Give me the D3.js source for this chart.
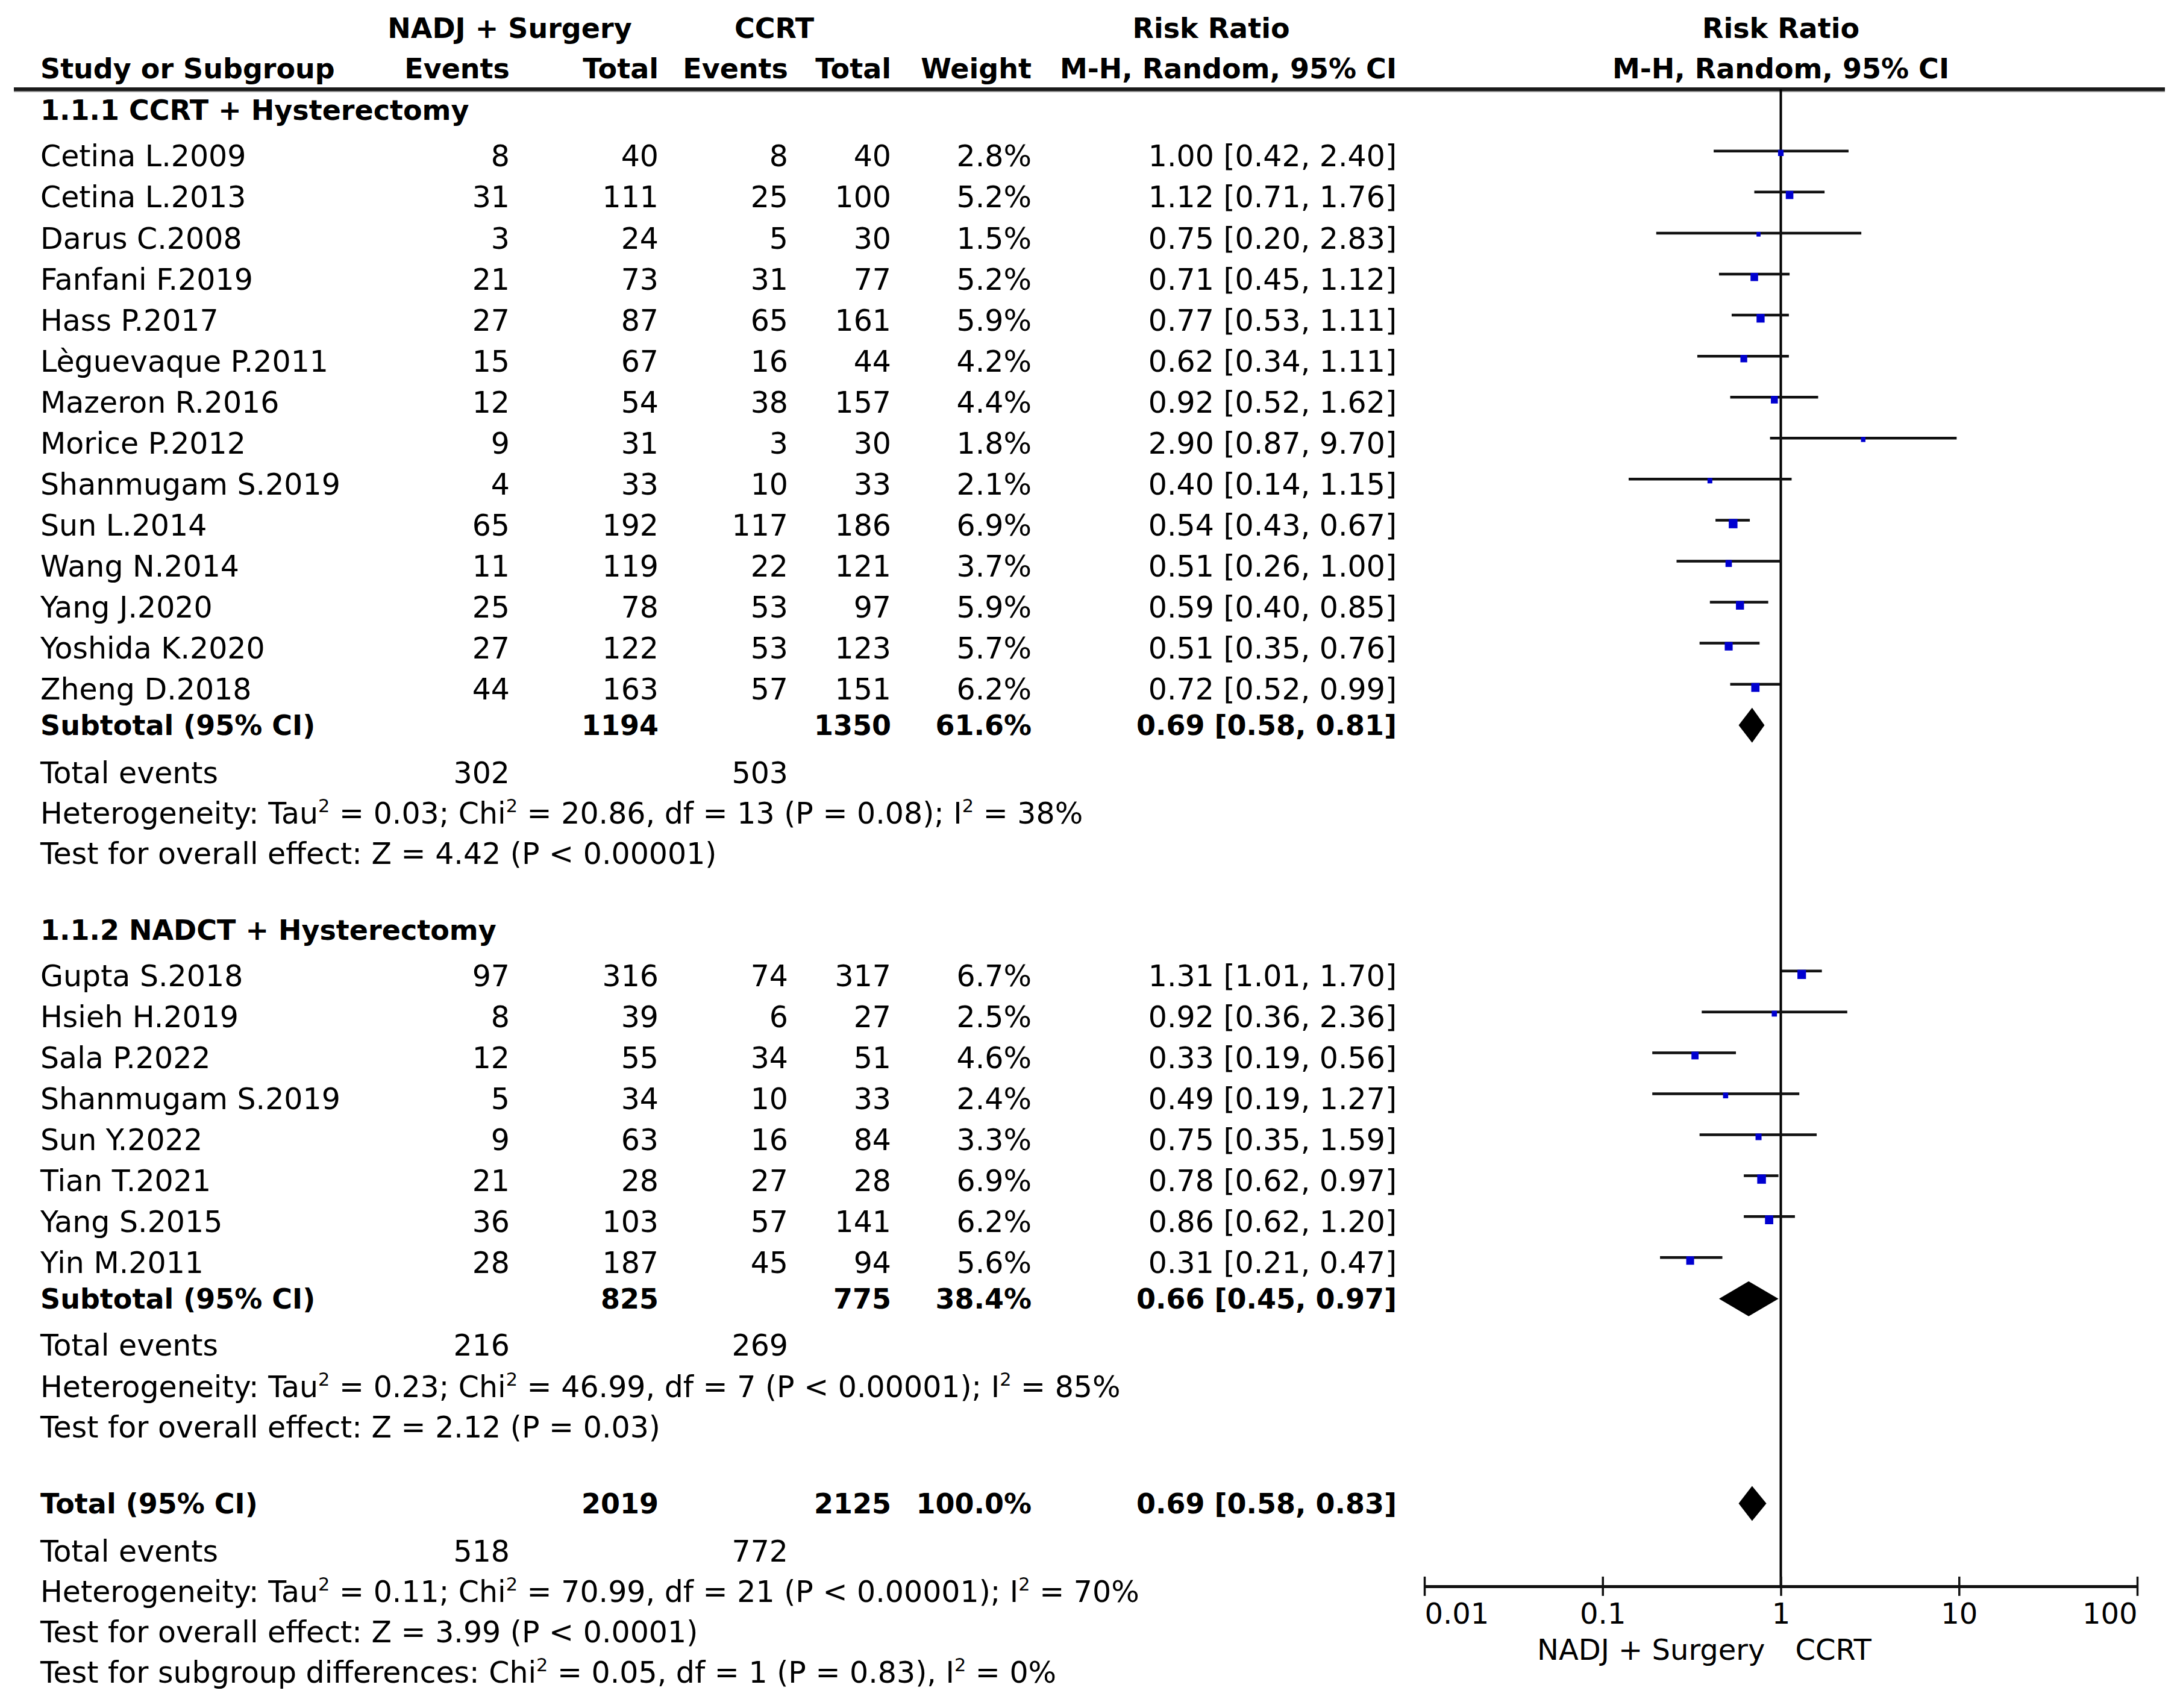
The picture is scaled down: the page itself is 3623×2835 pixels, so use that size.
<!DOCTYPE html>
<html><head><meta charset="utf-8">
<script src="https://cdn.jsdelivr.net/npm/d3@7"></script>
<style>
body{margin:0;background:#fff}
text{font-family:"DejaVu Sans",Verdana,sans-serif;fill:#000}
</style>
</head><body>
<svg id="chart" width="3623" height="2835"></svg>
<script>
// ---------------- DATA ----------------
const g1Title = "1.1.1 CCRT + Hysterectomy";
const g1Studies = ["Cetina L.2009","Cetina L.2013","Darus C.2008","Fanfani F.2019","Hass P.2017","Lèguevaque P.2011","Mazeron R.2016","Morice P.2012","Shanmugam S.2019","Sun L.2014","Wang N.2014","Yang J.2020","Yoshida K.2020","Zheng D.2018"];
const g1ExpEvents = [8,31,3,21,27,15,12,9,4,65,11,25,27,44];
const g1ExpTotal  = [40,111,24,73,87,67,54,31,33,192,119,78,122,163];
const g1CtlEvents = [8,25,5,31,65,16,38,3,10,117,22,53,53,57];
const g1CtlTotal  = [40,100,30,77,161,44,157,30,33,186,121,97,123,151];
const g1Weight    = [2.8,5.2,1.5,5.2,5.9,4.2,4.4,1.8,2.1,6.9,3.7,5.9,5.7,6.2];
const g1RR        = [1.00,1.12,0.75,0.71,0.77,0.62,0.92,2.90,0.40,0.54,0.51,0.59,0.51,0.72];
const g1Lower     = [0.42,0.71,0.20,0.45,0.53,0.34,0.52,0.87,0.14,0.43,0.26,0.40,0.35,0.52];
const g1Upper     = [2.40,1.76,2.83,1.12,1.11,1.11,1.62,9.70,1.15,0.67,1.00,0.85,0.76,0.99];
const g1Subtotal  = {expTotal:1194, ctlTotal:1350, weight:61.6, rr:0.69, lo:0.58, hi:0.81, expEvents:302, ctlEvents:503};
const g1Het  = "Heterogeneity: Tau² = 0.03; Chi² = 20.86, df = 13 (P = 0.08); I² = 38%";
const g1Test = "Test for overall effect: Z = 4.42 (P < 0.00001)";

const g2Title = "1.1.2 NADCT + Hysterectomy";
const g2Studies = ["Gupta S.2018","Hsieh H.2019","Sala P.2022","Shanmugam S.2019","Sun Y.2022","Tian T.2021","Yang S.2015","Yin M.2011"];
const g2ExpEvents = [97,8,12,5,9,21,36,28];
const g2ExpTotal  = [316,39,55,34,63,28,103,187];
const g2CtlEvents = [74,6,34,10,16,27,57,45];
const g2CtlTotal  = [317,27,51,33,84,28,141,94];
const g2Weight    = [6.7,2.5,4.6,2.4,3.3,6.9,6.2,5.6];
const g2RR        = [1.31,0.92,0.33,0.49,0.75,0.78,0.86,0.31];
const g2Lower     = [1.01,0.36,0.19,0.19,0.35,0.62,0.62,0.21];
const g2Upper     = [1.70,2.36,0.56,1.27,1.59,0.97,1.20,0.47];
const g2Subtotal  = {expTotal:825, ctlTotal:775, weight:38.4, rr:0.66, lo:0.45, hi:0.97, expEvents:216, ctlEvents:269};
const g2Het  = "Heterogeneity: Tau² = 0.23; Chi² = 46.99, df = 7 (P < 0.00001); I² = 85%";
const g2Test = "Test for overall effect: Z = 2.12 (P = 0.03)";

const overall = {expTotal:2019, ctlTotal:2125, weight:100.0, rr:0.69, lo:0.58, hi:0.83, expEvents:518, ctlEvents:772};
const overallHet  = "Heterogeneity: Tau² = 0.11; Chi² = 70.99, df = 21 (P < 0.00001); I² = 70%";
const overallTest = "Test for overall effect: Z = 3.99 (P < 0.0001)";
const subgroupTest = "Test for subgroup differences: Chi² = 0.05, df = 1 (P = 0.83), I² = 0%";

const axisTicks = [0.01, 0.1, 1, 10, 100];
const axisTickLabels = ["0.01","0.1","1","10","100"];
const favoursLeft = "NADJ + Surgery";
const favoursRight = "CCRT";

// ---------------- LAYOUT ----------------
const S = 3623/1568;
const FS = 49, FSB = 46;
const svg = d3.select("#chart");
const col = {name:67, e1:846, n1:1093, e2:1308, n2:1479, w:1712, ci:2318};
const x = d3.scaleLog().domain([0.01,100]).range([2364,3547]);
const ruleY = 64*S, axisY = 1139.5*S;

function txt(xp, yc, str, anchor="start", bold=false, size=null){
  const fs = size || (bold ? FSB : FS);
  const t = svg.append("text")
    .attr("x", xp).attr("y", yc + fs*0.36)
    .attr("text-anchor", anchor)
    .attr("font-size", fs)
    .attr("font-weight", bold ? "bold" : "normal");
  const s = String(str);
  if (s.includes("²")) {
    const parts = s.split("²");
    parts.forEach((part, i) => {
      const ts = t.append("tspan").text(part);
      if (i > 0) ts.attr("dy", fs*0.38);
      if (i < parts.length - 1) {
        t.append("tspan").attr("font-size", fs*0.62).attr("dy", -fs*0.38).text("2");
      }
    });
  } else t.text(s);
  return t;
}
const fmt2 = d3.format(".2f"), fmt1 = d3.format(".1f");
const ciStr = (r,l,h) => `${fmt2(r)} [${fmt2(l)}, ${fmt2(h)}]`;

// headers
txt(col.e1, 20*S, "NADJ + Surgery", "middle", true);
txt(col.e2-23, 20*S, "CCRT", "middle", true);
txt(2010, 20*S, "Risk Ratio", "middle", true);
txt(x(1), 20*S, "Risk Ratio", "middle", true);
txt(col.name, 49*S, "Study or Subgroup", "start", true);
txt(col.e1, 49*S, "Events", "end", true);
txt(col.n1, 49*S, "Total", "end", true);
txt(col.e2, 49*S, "Events", "end", true);
txt(col.n2, 49*S, "Total", "end", true);
txt(col.w, 49*S, "Weight", "end", true);
txt(col.ci, 49*S, "M-H, Random, 95% CI", "end", true);
txt(x(1), 49*S, "M-H, Random, 95% CI", "middle", true);

svg.append("line").attr("x1",23).attr("x2",3593).attr("y1",ruleY).attr("y2",ruleY)
  .attr("stroke","#1a1a1a").attr("stroke-width",6);
svg.append("line").attr("x1",23).attr("x2",3593).attr("y1",ruleY+4).attr("y2",ruleY+4)
  .attr("stroke","#999").attr("stroke-width",2);

// vertical line of no effect
svg.append("line").attr("x1",x(1)).attr("x2",x(1)).attr("y1",ruleY).attr("y2",axisY)
  .attr("stroke","#000").attr("stroke-width",4);

function drawStudies(names, ee, et, ce, ct, w, rr, lo, hi, y0, step){
  names.forEach((n,i)=>{
    const yc = (y0 + step*i)*S;
    txt(col.name, yc, n);
    txt(col.e1, yc, ee[i], "end");
    txt(col.n1, yc, et[i], "end");
    txt(col.e2, yc, ce[i], "end");
    txt(col.n2, yc, ct[i], "end");
    txt(col.w, yc, fmt1(w[i])+"%", "end");
    txt(col.ci, yc, ciStr(rr[i],lo[i],hi[i]), "end");
    const ly = yc - 8;
    svg.append("line").attr("x1",x(lo[i])).attr("x2",x(hi[i])).attr("y1",ly).attr("y2",ly)
      .attr("stroke","#111").attr("stroke-width",4.5);
    const side = 5.5*Math.sqrt(w[i]);
    svg.append("rect").attr("x",x(rr[i])-side/2).attr("y",ly-2).attr("width",side).attr("height",side+1)
      .attr("fill","#0000d0");
  });
}
function diamond(d, yc){
  const h = 29;
  svg.append("path").attr("d",
    `M${x(d.lo)},${yc}L${x(d.rr)},${yc-h}L${x(d.hi)},${yc}L${x(d.rr)},${yc+h}Z`)
    .attr("fill","#000");
}
function subtotalRow(label, d, yc){
  txt(col.name, yc, label, "start", true);
  txt(col.n1, yc, d.expTotal, "end", true);
  txt(col.n2, yc, d.ctlTotal, "end", true);
  txt(col.w, yc, fmt1(d.weight)+"%", "end", true);
  txt(col.ci, yc, ciStr(d.rr,d.lo,d.hi), "end", true);
  diamond(d, yc);
}
function eventsRow(d, yc){
  txt(col.name, yc, "Total events");
  txt(col.e1, yc, d.expEvents, "end");
  txt(col.e2, yc, d.ctlEvents, "end");
}

// group 1
txt(col.name, 79*S, g1Title, "start", true);
drawStudies(g1Studies,g1ExpEvents,g1ExpTotal,g1CtlEvents,g1CtlTotal,g1Weight,g1RR,g1Lower,g1Upper,112,29.46);
subtotalRow("Subtotal (95% CI)", g1Subtotal, 521*S);
eventsRow(g1Subtotal, 555*S);
txt(col.name, 584*S, g1Het);
txt(col.name, 613*S, g1Test);

// group 2
txt(col.name, 668*S, g2Title, "start", true);
drawStudies(g2Studies,g2ExpEvents,g2ExpTotal,g2CtlEvents,g2CtlTotal,g2Weight,g2RR,g2Lower,g2Upper,701,29.4);
subtotalRow("Subtotal (95% CI)", g2Subtotal, 933*S);
eventsRow(g2Subtotal, 966*S);
txt(col.name, 996*S, g2Het);
txt(col.name, 1025*S, g2Test);

// overall
subtotalRow("Total (95% CI)", overall, 1080*S);
eventsRow(overall, 1114*S);
txt(col.name, 1143*S, overallHet);
txt(col.name, 1172*S, overallTest);
txt(col.name, 1201*S, subgroupTest);

// axis
const ax = svg.append("g").attr("transform",`translate(0,${axisY})`)
  .call(d3.axisBottom(x).tickValues(axisTicks).tickFormat((d,i)=>axisTickLabels[i]).tickSizeOuter(0).tickSizeInner(16));
ax.select(".domain").attr("stroke","#111").attr("stroke-width",5);
ax.selectAll(".tick line").attr("y1",-16).attr("y2",16).attr("stroke","#111").attr("stroke-width",3.5);
ax.selectAll(".tick text")
  .attr("y", 45 + 48*0.36).attr("dy",null)
  .attr("font-size",48).attr("font-family",'"DejaVu Sans",Verdana,sans-serif').attr("fill","#000")
  .attr("text-anchor",(d,i)=> i===0 ? "start" : (i===axisTicks.length-1 ? "end" : "middle"));
txt(x(1)-26, 1185*S, favoursLeft, "end", false, 48);
txt(x(1)+24, 1185*S, favoursRight, "start", false, 48);
</script>
</body></html>
